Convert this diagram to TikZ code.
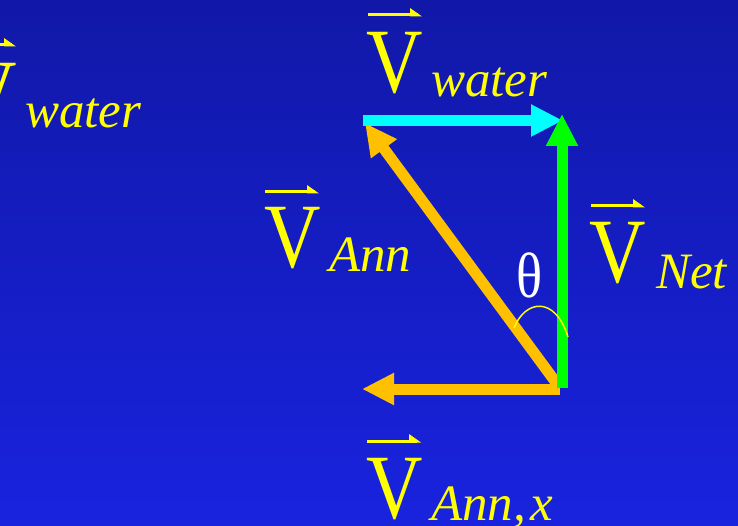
\documentclass[tikz,border=0pt]{standalone}
\usepackage{fontspec}
\setmainfont{Liberation Serif}
\usetikzlibrary{arrows.meta}
\definecolor{bgtop}{RGB}{17,24,168}
\definecolor{bgbot}{RGB}{25,35,222}
\definecolor{vyel}{RGB}{255,255,0}
\definecolor{vcyan}{RGB}{0,255,255}
\definecolor{vgreen}{RGB}{0,255,0}
\definecolor{vorange}{RGB}{255,192,0}
\newcommand\hsq[1]{\scalebox{0.85}[1]{#1}}
\tikzset{
  bigV/.style={anchor=base west, inner sep=0pt, text=vyel, font=\fontsize{92}{92}\selectfont},
  subtxt/.style={anchor=base west, inner sep=0pt, text=vyel, font=\fontsize{51}{51}\selectfont\itshape},
  vec/.style={line width=11pt, -{Triangle[length=32pt,width=30pt]}},
  harpline/.style={draw=vyel, line width=3pt},
  harp/.pic={\draw[harpline] (0,0) -- (50,0); \fill[vyel] (42,-7) -- (54,1.5) -- (42,1.5) -- cycle;},
}
\begin{document}
\begin{tikzpicture}[x=1pt,y=-1pt]
\useasboundingbox (0,0) rectangle (738,526);
\shade[top color=bgtop, bottom color=bgbot] (0,0) rectangle (738,526);

% vertices
\coordinate (O) at (562,388);
\coordinate (Ohx) at (560,389);
\coordinate (Od) at (560,388);
\coordinate (Ws) at (363,120.5);
\coordinate (We) at (563,120.5);
\coordinate (Nt) at (562,114);
\coordinate (At) at (365,123);
\coordinate (Xt) at (362,389);

% arrows
\draw[vec, draw=vorange, fill=vorange] (Od) -- (At);
\draw[vec, draw=vorange, fill=vorange] (Ohx) -- (Xt);
\draw[vec, draw=vcyan, fill=vcyan] (Ws) -- (We);
\draw[vec, draw=vgreen, fill=vgreen] (O) -- (Nt);

% angle arc
\coordinate (a1) at (514,328);
\coordinate (a2) at (568,337);
\draw[vyel, line width=1.5pt] (a1) .. controls (525,300) and (555,295) .. (a2);
\node[anchor=base west, inner sep=0pt, text=white, font=\fontsize{64}{64}\selectfont] (th) at (516,298) {\hsq{θ}};

% labels: V water (top)
\node[bigV] (v1) at (366,93) {\hsq{V}};
\pic at (368,15) {harp};
\node[subtxt] (s1) at (431,97) {water};

% V water (left, clipped as in the reference)
\node[bigV] (v0) at (-40,124) {\hsq{V}};
\pic at (-38,45) {harp};
\node[subtxt] (s0) at (25,128) {water};

% V Ann
\node[bigV] (v2) at (264,268) {\hsq{V}};
\pic at (265,192) {harp};
\node[subtxt] (s2) at (329,272) {Ann};

% V Net
\node[bigV] (v3) at (589,283) {\hsq{V}};
\pic at (591,206) {harp};
\node[subtxt] (s3) at (656,288) {Net};

% V Ann,x
\node[bigV] (v4) at (366,518) {\hsq{V}};
\pic at (367,441) {harp};
\node[subtxt] (s4) at (431,520) {Ann,\kern4pt x};
\end{tikzpicture}
\end{document}
